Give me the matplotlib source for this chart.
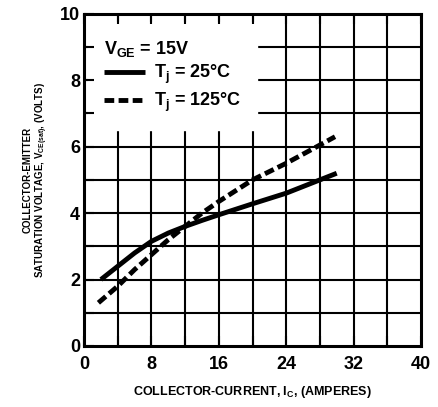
import numpy as np
import matplotlib
matplotlib.use("Agg")
import matplotlib.pyplot as plt
from matplotlib.lines import Line2D
from matplotlib.ticker import MultipleLocator

# Collector current (A) vs. collector-emitter saturation voltage (V)
ic_25 = [2, 4, 6, 8, 10, 12, 14, 16, 20, 24, 28, 30]
vce_25 = [2.0, 2.4, 2.8, 3.15, 3.4, 3.6, 3.78, 3.95, 4.28, 4.6, 5.0, 5.2]

ic_125 = [1.7, 4, 6, 8, 10, 12, 14, 16, 20, 24, 28, 29.8]
vce_125 = [1.3, 1.8, 2.3, 2.75, 3.2, 3.6, 4.0, 4.35, 5.0, 5.5, 6.05, 6.3]

x_ticks = [0, 8, 16, 24, 32, 40]
y_ticks = [0, 2, 4, 6, 8, 10]

plt.rcParams['font.family'] = ['Liberation Sans', 'DejaVu Sans']
plt.rcParams['font.weight'] = 'bold'
plt.rcParams['mathtext.fontset'] = 'custom'
plt.rcParams['mathtext.rm'] = 'Liberation Sans:bold'
plt.rcParams['mathtext.it'] = 'Liberation Sans:bold'
plt.rcParams['mathtext.bf'] = 'Liberation Sans:bold'
plt.rcParams['mathtext.default'] = 'rm'

fig = plt.figure(figsize=(4.38, 4.07), dpi=100)
ax = fig.add_axes([0.192, 0.150, 0.769, 0.816])

ax.set_xlim(0, 40)
ax.set_ylim(0, 10)

# grid every 4 A and 1 V, drawn as plain lines so the legend can cover them
for gx in np.arange(4, 40, 4):
    ax.axvline(gx, color='black', lw=1.5, zorder=1)
for gy in np.arange(1, 10, 1):
    ax.axhline(gy, color='black', lw=1.5, zorder=1)

ax.plot(ic_25, vce_25, color='black', lw=3.5, solid_capstyle='butt', zorder=3)
ax.plot(ic_125, vce_125, color='black', lw=3.5, dashes=(2.0, 0.9),
        dash_capstyle='butt', zorder=3)

ax.set_xticks(x_ticks)
ax.set_yticks(y_ticks)
ax.xaxis.set_minor_locator(MultipleLocator(4))
ax.yaxis.set_minor_locator(MultipleLocator(1))
ax.tick_params(which='both', direction='in', length=7, width=1.5,
               top=True, right=False, color='black')
ax.tick_params(axis='x', labelsize=13, pad=7)
ax.tick_params(axis='y', labelsize=13, pad=3)
for lbl in ax.get_xticklabels() + ax.get_yticklabels():
    lbl.set_fontweight('bold')

for sp in ax.spines.values():
    sp.set_linewidth(2.2)
    sp.set_zorder(4)
ax.set_axisbelow(False)

ax.set_xlabel("COLLECTOR-CURRENT, I$_C$, (AMPERES)", fontsize=9,
              fontweight='bold', labelpad=8)
ax.set_ylabel("COLLECTOR-EMITTER\nSATURATION VOLTAGE, V$_{CE(sat)}$, (VOLTS)",
              fontsize=7, fontweight='bold', labelpad=7, linespacing=1.1)

handles = [Line2D([], [], color='black', lw=3.5, solid_capstyle='butt'),
           Line2D([], [], color='black', lw=3.5, dashes=(2.0, 0.9),
                  dash_capstyle='butt')]
leg = ax.legend(handles, ["T$_j$ = 25°C", "T$_j$ = 125°C"],
                title="V$_{GE}$ = 15V", loc='upper left',
                bbox_to_anchor=(0.0, 0.985), alignment='left',
                fontsize=13, title_fontsize=13, frameon=True,
                handlelength=2.3, handletextpad=0.45, borderpad=0.9,
                labelspacing=0.25, borderaxespad=0.2, fancybox=False)
leg.get_frame().set_edgecolor('white')
leg.get_frame().set_facecolor('white')
leg.get_frame().set_alpha(1.0)
leg.set_zorder(2)
for t in leg.get_texts():
    t.set_fontweight('bold')
leg.get_title().set_fontweight('bold')

fig.savefig("out.png", dpi=100)
